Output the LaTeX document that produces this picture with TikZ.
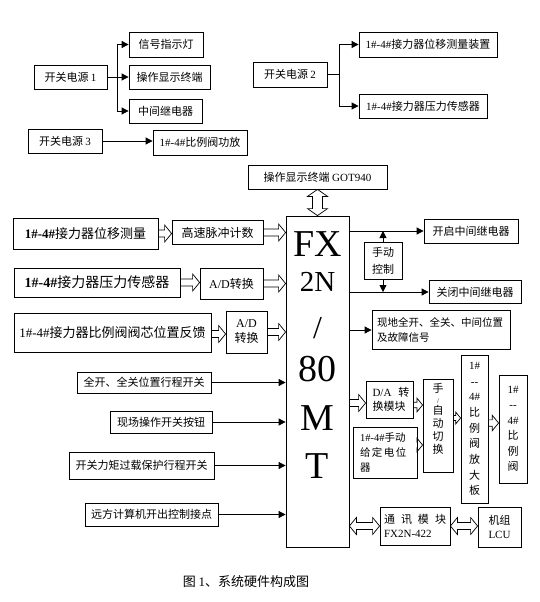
\documentclass[tikz,border=0pt]{standalone}
\usepackage{fontspec}
\setmainfont{Liberation Serif}
\newfontfamily\cj{Noto Sans CJK SC}
\usetikzlibrary{arrows.meta,calc}
\newcommand\lat[1]{{\rmfamily #1}}
\newcommand\harr[3][1]{%
  \draw[hollow] let \p1=#2, \p2=#3 in
  (\x1,{\y1+#1*3.5pt}) -- ({\x2-#1*7pt},{\y1+#1*3.5pt}) -- ({\x2-#1*7pt},{\y1+#1*8.5pt}) -- (\x2,\y1)
  -- ({\x2-#1*7pt},{\y1-#1*8.5pt}) -- ({\x2-#1*7pt},{\y1-#1*3.5pt}) -- (\x1,{\y1-#1*3.5pt});}
\newcommand\hdarr[2]{%
  \draw[hollow] let \p1=#1, \p2=#2 in
  ({\x1+7pt},{\y1+3.5pt}) -- ({\x2-7pt},{\y1+3.5pt}) -- ({\x2-7pt},{\y1+8.5pt}) -- (\x2,\y1)
  -- ({\x2-7pt},{\y1-8.5pt}) -- ({\x2-7pt},{\y1-3.5pt}) -- ({\x1+7pt},{\y1-3.5pt})
  -- ({\x1+7pt},{\y1-8.5pt}) -- (\x1,\y1) -- ({\x1+7pt},{\y1+8.5pt}) -- cycle;}
\newcommand\vdarr[2]{%
  \draw[hollow] let \p1=#1, \p2=#2 in
  ({\x1+5pt},{\y1-7pt}) -- ({\x1+5pt},{\y2+7pt}) -- ({\x1+10pt},{\y2+7pt}) -- (\x1,\y2)
  -- ({\x1-10pt},{\y2+7pt}) -- ({\x1-5pt},{\y2+7pt}) -- ({\x1-5pt},{\y1-7pt})
  -- ({\x1-10pt},{\y1-7pt}) -- (\x1,\y1) -- ({\x1+10pt},{\y1-7pt}) -- cycle;}
\tikzset{
  bx/.style={draw, line width=0.8pt, inner sep=1pt, font=\cj\fontsize{11}{14}\selectfont, align=center},
  arr/.style={line width=0.8pt, -{Triangle[length=7pt,width=7pt]}},
  ln/.style={line width=0.8pt},
  hollow/.style={draw, line width=0.7pt},
  big/.style={font=\fontsize{38}{38}\selectfont, inner sep=0pt},
}
\begin{document}
\begin{tikzpicture}[x=1pt,y=-1pt]
\path[use as bounding box] (0,0) rectangle (540,602);
% power supplies
\node[bx, minimum width=73pt, minimum height=24pt] (p1) at (70.5,77) {开关电源 \lat{1}};
\node[bx, minimum width=74pt, minimum height=25pt] (s1) at (166,44.5) {信号指示灯};
\node[bx, minimum width=81pt, minimum height=24pt] (s2) at (169.5,77) {操作显示终端};
\node[bx, minimum width=73pt, minimum height=24pt] (s3) at (165.5,111) {中间继电器};
\node[bx, minimum width=74pt, minimum height=24pt] (p3) at (65,141) {开关电源 \lat{3}};
\node[bx, minimum width=94pt, minimum height=25pt] (s4) at (200,142.5) {\lat{1\#-4\#}比例阀功放};
\node[bx, minimum width=74pt, minimum height=25pt] (p2) at (290,74.5) {开关电源 \lat{2}};
\node[bx, minimum width=138pt, minimum height=25pt] (s5) at (428,44.5) {\lat{1\#-4\#}接力器位移测量装置};
\node[bx, minimum width=128pt, minimum height=24pt] (s6) at (423,106) {\lat{1\#-4\#}接力器压力传感器};
\coordinate (t1) at (117,77);
\draw[ln] (p1.east) -- (t1);
\draw[ln] (t1 |- s1.west) -- (t1 |- s3.west);
\draw[arr] (t1 |- s1.west) -- (s1.west);
\draw[arr] (t1) -- (s2.west);
\draw[arr] (t1 |- s3.west) -- (s3.west);
\draw[arr] (p3.east) -- (p3.east -| s4.west);
\coordinate (t2) at (339,74.5);
\draw[ln] (p2.east) -- (t2);
\draw[ln] (t2 |- s5.west) -- (t2 |- s6.west);
\draw[arr] (t2 |- s5.west) -- (s5.west);
\draw[arr] (t2 |- s6.west) -- (s6.west);
% PLC
\node[bx, minimum width=139pt, minimum height=24pt] (got) at (317.5,177) {操作显示终端 \lat{GOT940}};
\node[bx, minimum width=63pt, minimum height=331pt] (fx) at (317.5,381.5) {};
\node[big] (fxa) at (317.5,244) {FX};
\node[big, font=\fontsize{29}{29}\selectfont] (fxb) at (317.5,282) {2N};
\node[big, font=\fontsize{32}{32}\selectfont] (fxc) at (317.5,328) {/};
\node[big] (fxd) at (317.5,369) {80};
\node[big] (fxe) at (317.5,418) {M};
\node[big] (fxf) at (317.5,466) {T};
\vdarr{(got.south)}{(got.south |- fx.north)}
% left inputs
\node[bx, font=\cj\fontsize{13}{15}\selectfont, minimum width=145pt, minimum height=31pt] (l1) at (85.5,233.5) {\lat{\bfseries 1\#-4\#}接力器位移测量};
\node[bx, font=\cj\fontsize{12}{14}\selectfont, minimum width=91pt, minimum height=24pt] (hs) at (217.5,232.5) {高速脉冲计数};
\node[bx, font=\cj\fontsize{14}{16}\selectfont, minimum width=166pt, minimum height=29pt] (l2) at (97,282.5) {\lat{\bfseries 1\#-4\#}接力器压力传感器};
\node[bx, font=\cj\fontsize{12}{14}\selectfont, minimum width=63pt, minimum height=31pt] (ad1) at (231.5,283.5) {\lat{A/D}转换};
\node[bx, font=\cj\fontsize{13}{15}\selectfont, minimum width=197pt, minimum height=39pt] (l3) at (112.5,332.5) {\lat{1\#-4\#}接力器比例阀阀芯位置反馈};
\node[bx, font=\cj\fontsize{12}{15}\selectfont, minimum width=41pt, minimum height=42pt] (ad2) at (246.5,332) {\lat{A/D}\\转换};
\harr{(l1.east)}{(l1.east -| hs.west)}
\harr{(hs.east)}{(hs.east -| fx.west)}
\harr{(l2.east)}{(l2.east -| ad1.west)}
\harr{(ad1.east)}{(ad1.east -| fx.west)}
\harr{([yshift=-1.5pt]l3.east)}{([yshift=-1.5pt]l3.east -| ad2.west)}
\harr{(ad2.east)}{(ad2.east -| fx.west)}
% switches
\node[bx, minimum width=134pt, minimum height=21pt] (b1) at (144,382.5) {全开、全关位置行程开关};
\node[bx, minimum width=102pt, minimum height=22pt] (b2) at (161,422) {现场操作开关按钮};
\node[bx, minimum width=145pt, minimum height=27pt] (b3) at (141.5,465.5) {开关力矩过载保护行程开关};
\node[bx, minimum width=133pt, minimum height=23pt] (b4) at (151.5,514.5) {远方计算机开出控制接点};
\draw[arr] (b1.east) -- (b1.east -| fx.west);
\draw[arr] (b2.east) -- (b2.east -| fx.west);
\draw[arr] (b3.east) -- (b3.east -| fx.west);
\draw[arr] (b4.east) -- (b4.east -| fx.west);
% right outputs
\node[bx, minimum width=94pt, minimum height=24pt] (r1) at (471,231) {开启中间继电器};
\node[bx, font=\cj\fontsize{11}{17}\selectfont, minimum width=38pt, minimum height=37pt] (mc) at (383,260.5) {手动\\控制};
\node[bx, minimum width=92pt, minimum height=23pt] (r2) at (475,292) {关闭中间继电器};
\node[bx, font=\cj\fontsize{10.5}{15}\selectfont, minimum width=138pt, minimum height=39pt, text width=128pt, align=left] (r3) at (441,330) {现地全开、全关、中间位置\\及故障信号};
\draw[arr] (fx.east |- r1.west) -- (r1.west);
\draw[arr] (mc.north) -- (mc.north |- r1.west);
\draw[arr] (mc.south) -- (mc.south |- r2.west);
\draw[arr] (fx.east |- r2.west) -- (r2.west);
\draw[arr] (fx.east |- r3.west) -- (r3.west);
% analog output chain
\node[bx, minimum width=47pt, minimum height=37pt, text width=44pt, align=left] (da) at (389.5,399.5) {\hspace{5pt}\lat{D/A}\hspace{7pt}转\\\hspace{5pt}换模块};
\node[bx, font=\cj\fontsize{10.5}{15}\selectfont, minimum width=64pt, minimum height=51pt, text width=50pt, align=left] (pot) at (385,452.5) {\lat{1\#-4\#}手动\\给\hspace{1.5pt}定\hspace{1.5pt}电\hspace{1.5pt}位\\器};
\node[bx, minimum width=30pt, minimum height=93pt] (sw) at (438,425.5) {};
\node[font=\cj\fontsize{11}{13}\selectfont, align=center, anchor=north, inner sep=0pt] (swt) at ([yshift=-4pt]sw.north) {手\\[-2pt]\lat{\scriptsize /}\\[-2pt]自\\动\\切\\换};
\node[bx, font=\cj\fontsize{11}{15.7}\selectfont, minimum width=27pt, minimum height=148pt] (amp) at (474.5,429) {\lat{1\#}\\\lat{-{}-}\\\lat{4\#}\\比\\例\\阀\\放\\大\\板};
\node[bx, font=\cj\fontsize{11}{15.5}\selectfont, minimum width=28pt, minimum height=108pt] (pv) at (513,429) {\lat{1\#}\\\lat{-{}-}\\\lat{4\#}\\比\\例\\阀};
\harr{([yshift=-3.5pt]da.west -| fx.east)}{([yshift=-3.5pt]da.west)}
\harr[0.8]{([yshift=-5.5pt]da.east)}{([yshift=-5.5pt]da.east -| sw.west)}
\harr[0.8]{([yshift=7.5pt]pot.east)}{([yshift=7.5pt]pot.east -| sw.west)}
\harr[0.7]{([yshift=7.5pt]sw.east)}{([yshift=7.5pt]sw.east -| amp.west)}
\harr[0.9]{([yshift=6pt]amp.east)}{([yshift=6pt]amp.east -| pv.west)}
% communication
\node[bx, minimum width=70pt, minimum height=38pt, text width=62pt, align=left] (com) at (415,526) {通\hspace{6pt}讯\hspace{6pt}模\hspace{6pt}块\\\lat{FX2N-422}};
\node[bx, minimum width=43pt, minimum height=40pt] (lcu) at (499.5,527) {机组\\\lat{LCU}};
\hdarr{(com.west -| fx.east)}{(com.west)}
\hdarr{(com.east)}{(com.east -| lcu.west)}
% caption
\node[font=\cj\fontsize{13}{13}\selectfont] (cap) at (246,582) {图 \lat{1}、系统硬件构成图};
\end{tikzpicture}
\end{document}
